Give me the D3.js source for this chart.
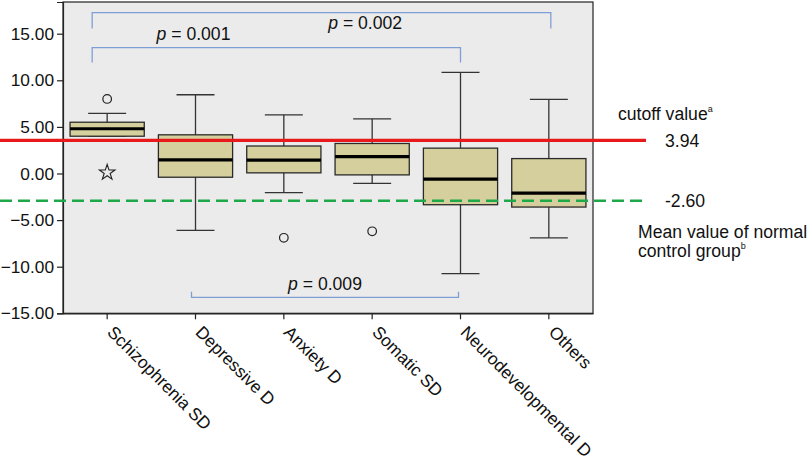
<!DOCTYPE html>
<html>
<head>
<meta charset="utf-8">
<script src="https://cdn.jsdelivr.net/npm/d3@7"></script>
<style>
  html, body { margin: 0; padding: 0; background: #fff; }
  svg { display: block; }
</style>
</head>
<body>
<svg id="chart" width="810" height="465"></svg>
<script>
const categories = ['Schizophrenia SD', 'Depressive D', 'Anxiety D', 'Somatic SD', 'Neurodevelopmental D', 'Others']
const whiskerLow = [4.0, -6.1, -2.05, -1.05, -10.75, -6.9]
const q1 = [4.0, -0.4, 0.07, -0.15, -3.35, -3.6]
const median = [4.8, 1.47, 1.43, 1.82, -0.6, -2.1]
const q3 = [5.5, 4.15, 2.95, 3.22, 2.72, 1.6]
const whiskerHigh = [6.45, 8.45, 6.3, 5.87, 10.85, 7.95]

const outlierCats = ['Schizophrenia SD', 'Schizophrenia SD', 'Anxiety D', 'Somatic SD']
const outlierValues = [8.0, 0.1, -6.9, -6.2]
const outlierShapes = ['circle', 'star', 'circle', 'circle']

const yTicks = [15, 10, 5, 0, -5, -10, -15]

const cutoffLine = 3.55
const cutoffLabel = '3.94'
const normalMeanLine = -2.93
const normalMeanLabel = '-2.60'

const bracketFrom = ['Schizophrenia SD', 'Schizophrenia SD', 'Depressive D']
const bracketTo = ['Others', 'Neurodevelopmental D', 'Neurodevelopmental D']
const bracketP = ['0.002', '0.001', '0.009']

const svg = d3.select('#chart')
const plotLeft = 63, plotRight = 593, plotTop = 2, plotBottom = 313.3
const font = 'Liberation Sans, Arial, Helvetica, sans-serif'
const fs = 17.6

const x = d3.scaleBand().domain(categories).range([plotLeft, plotRight]).padding(0)
const y = d3.scaleLinear().domain([-15, 18.4]).range([plotBottom, plotTop])
const xc = (c) => x(c) + x.bandwidth() / 2

// plot background
svg.append('rect')
  .attr('x', plotLeft).attr('y', plotTop)
  .attr('width', plotRight - plotLeft).attr('height', plotBottom - plotTop)
  .attr('fill', '#ebebeb')
  .attr('stroke', '#222').attr('stroke-width', 1.2)

// y axis
const yAxis = svg.append('g')
  .attr('transform', `translate(${plotLeft},0)`)
  .call(d3.axisLeft(y).tickValues(yTicks).tickSize(6).tickPadding(3).tickFormat(d3.format('.2f')))
yAxis.select('.domain').attr('stroke', '#222').attr('stroke-width', 1.2)
yAxis.selectAll('.tick line').attr('stroke', '#222').attr('stroke-width', 1.2)
yAxis.selectAll('.tick text')
  .attr('font-family', font).attr('font-size', 17.3).attr('fill', '#111')

// x axis
const xAxis = svg.append('g')
  .attr('transform', `translate(0,${plotBottom})`)
  .call(d3.axisBottom(x).tickSize(6).tickSizeOuter(0))
xAxis.select('.domain').attr('stroke', '#222').attr('stroke-width', 1.2)
xAxis.selectAll('.tick line').attr('stroke', '#222').attr('stroke-width', 1.2)
xAxis.selectAll('.tick text')
  .attr('font-family', font).attr('font-size', 17.3).attr('fill', '#111')
  .attr('text-anchor', 'start')
  .attr('dy', null)
  .attr('transform', 'translate(-1,20) rotate(45)')
  .attr('y', 0)
  .attr('x', 0)

// boxes
const boxW = x.bandwidth() * 0.84
const capW = x.bandwidth() * 0.43
const boxes = svg.append('g').selectAll('g.box')
  .data(categories)
  .join('g')
  .attr('class', 'box')

boxes.append('line')
  .attr('x1', (d) => xc(d)).attr('x2', (d) => xc(d))
  .attr('y1', (_, i) => y(whiskerHigh[i])).attr('y2', (_, i) => y(whiskerLow[i]))
  .attr('stroke', '#333').attr('stroke-width', 1.3)

boxes.append('line')
  .attr('x1', (d) => xc(d) - capW / 2).attr('x2', (d) => xc(d) + capW / 2)
  .attr('y1', (_, i) => y(whiskerHigh[i])).attr('y2', (_, i) => y(whiskerHigh[i]))
  .attr('stroke', '#333').attr('stroke-width', 1.3)

boxes.append('line')
  .attr('x1', (d) => xc(d) - capW / 2).attr('x2', (d) => xc(d) + capW / 2)
  .attr('y1', (_, i) => y(whiskerLow[i])).attr('y2', (_, i) => y(whiskerLow[i]))
  .attr('stroke', '#333').attr('stroke-width', 1.3)

boxes.append('rect')
  .attr('x', (d) => xc(d) - boxW / 2)
  .attr('width', boxW)
  .attr('y', (_, i) => y(q3[i]))
  .attr('height', (_, i) => y(q1[i]) - y(q3[i]))
  .attr('fill', '#d5cf9d')
  .attr('stroke', '#2a2a2a').attr('stroke-width', 1.3)

boxes.append('line')
  .attr('x1', (d) => xc(d) - boxW / 2).attr('x2', (d) => xc(d) + boxW / 2)
  .attr('y1', (_, i) => y(median[i])).attr('y2', (_, i) => y(median[i]))
  .attr('stroke', '#000').attr('stroke-width', 3.2)

// outliers
const star = d3.symbol().type(d3.symbolStar).size(75)
outlierCats.forEach((c, i) => {
  if (outlierShapes[i] === 'star') {
    svg.append('path')
      .attr('d', star())
      .attr('transform', `translate(${xc(c)},${y(outlierValues[i])})`)
      .attr('fill', 'none').attr('stroke', '#222').attr('stroke-width', 1.1)
  } else {
    svg.append('circle')
      .attr('cx', xc(c)).attr('cy', y(outlierValues[i])).attr('r', 4.3)
      .attr('fill', 'none').attr('stroke', '#222').attr('stroke-width', 1.2)
  }
})

// reference lines
svg.append('line')
  .attr('x1', 0).attr('x2', 646)
  .attr('y1', y(cutoffLine)).attr('y2', y(cutoffLine))
  .attr('stroke', '#e8191b').attr('stroke-width', 3.2)

svg.append('line')
  .attr('x1', 0).attr('x2', 646)
  .attr('y1', y(normalMeanLine)).attr('y2', y(normalMeanLine))
  .attr('stroke', '#1fa84a').attr('stroke-width', 2.4)
  .attr('stroke-dasharray', '12,6')

const addText = (tx, ty, str) => svg.append('text')
  .attr('x', tx).attr('y', ty)
  .attr('font-family', font).attr('font-size', fs).attr('fill', '#111')
  .text(str)

addText(665, y(cutoffLine) + 7, cutoffLabel)
addText(665, y(normalMeanLine) + 6, normalMeanLabel)

const cut = addText(618, 120, 'cutoff value')
cut.append('tspan').attr('font-size', 9).attr('dy', -8).text('a')

addText(638, 238, 'Mean value of normal')
const ctrl = addText(638, 257, 'control group')
ctrl.append('tspan').attr('font-size', 9).attr('dy', -8).text('b')

// significance brackets
const bracketLayout = [
  { level: 17.25, drop: 15.55, dx1: -15, dx2: 2, label: 'Somatic SD', ldx: -7, ly: 15.45 },
  { level: 13.5, drop: 11.9, dx1: -15, dx2: 0, label: 'Depressive D', ldx: -2, ly: 14.35 },
  { level: -13.3, drop: -12.7, dx1: -4, dx2: -2, label: null, ldx: 0, ly: -12.55 }
]

bracketFrom.forEach((from, i) => {
  const b = bracketLayout[i]
  const x1 = xc(from) + b.dx1
  const x2 = xc(bracketTo[i]) + b.dx2
  svg.append('path')
    .attr('d', `M${x1},${y(b.drop)}V${y(b.level)}H${x2}V${y(b.drop)}`)
    .attr('fill', 'none').attr('stroke', '#7f9ed6').attr('stroke-width', 1.3)
  const lx = b.label ? xc(b.label) + b.ldx : (x1 + x2) / 2
  const t = svg.append('text')
    .attr('x', lx).attr('y', y(b.ly))
    .attr('text-anchor', 'middle')
    .attr('font-family', font).attr('font-size', fs).attr('fill', '#111')
  t.append('tspan').attr('font-style', 'italic').text('p')
  t.append('tspan').text(` = ${bracketP[i]}`)
})
</script>
</body>
</html>
